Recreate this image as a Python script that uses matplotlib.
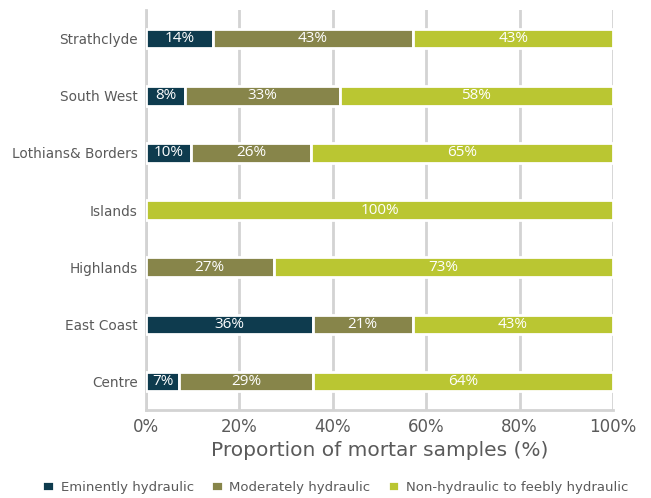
import matplotlib.pyplot as plt
import numpy as np

regions = ["Centre", "East Coast", "Highlands", "Islands",
           "Lothians& Borders", "South West", "Strathclyde"]
# shares per region (%), bar labels are these rounded
eminently = [7.1, 35.7, 0, 0, 9.6, 8.3, 14.3]
moderately = [28.6, 21.4, 27.3, 0, 25.8, 33.3, 42.9]
non_hydraulic = [64.3, 42.9, 72.7, 100, 64.6, 58.3, 42.9]
series_names = ["Eminently hydraulic", "Moderately hydraulic",
                "Non-hydraulic to feebly hydraulic"]
colors = ["#0e3b4e", "#87854a", "#bac632"]
xticks = [0, 20, 40, 60, 80, 100]

plt.rcParams["font.family"] = ["DejaVu Sans"]
grey = "#5a5a5a"

fig = plt.figure(figsize=(6.51, 4.98), dpi=100)
ax = fig.add_axes([0.2243, 0.1767, 0.7173, 0.803])

y = np.arange(len(regions))
left = np.zeros(len(regions))
handles = []
for vals, col, name in zip([eminently, moderately, non_hydraulic], colors, series_names):
    vals = np.array(vals, dtype=float)
    bars = ax.barh(y, vals, left=left, height=0.34, color=col,
                   edgecolor="white", linewidth=2, label=name, zorder=3)
    handles.append(bars)
    for yi, l, v in zip(y, left, vals):
        if v > 0:
            ax.text(l + v / 2, yi, f"{round(v)}%", ha="center", va="center",
                    color="white", fontsize=11, zorder=4,
                    family=["Open Sans", "DejaVu Sans"])
    left += vals

ax.set_xlim(0, 100)
ax.set_ylim(-0.5, 6.5)
ax.set_yticks(y)
ax.set_yticklabels(regions, fontsize=9.8, color=grey)
ax.set_xticks(xticks)
ax.set_xticklabels([f"{t}%" for t in xticks], fontsize=12, color=grey)
ax.set_xlabel("Proportion of mortar samples (%)", fontsize=14.5, color=grey, labelpad=3)
ax.tick_params(length=0, pad=6)
ax.xaxis.grid(True, color="#d3d3d3", linewidth=2, zorder=0)
ax.set_axisbelow(True)
for s in ["top", "right"]:
    ax.spines[s].set_visible(False)
for s in ["left", "bottom"]:
    ax.spines[s].set_color("#d3d3d3")
    ax.spines[s].set_linewidth(2)

fig.legend(handles=handles, labels=series_names, loc="center",
           bbox_to_anchor=(0.515, 0.022), ncol=3, frameon=False,
           fontsize=9.5, labelcolor=grey, handlelength=0.9, handleheight=0.9,
           handletextpad=0.5, columnspacing=1.3)

fig.savefig("out.png", dpi=100)
